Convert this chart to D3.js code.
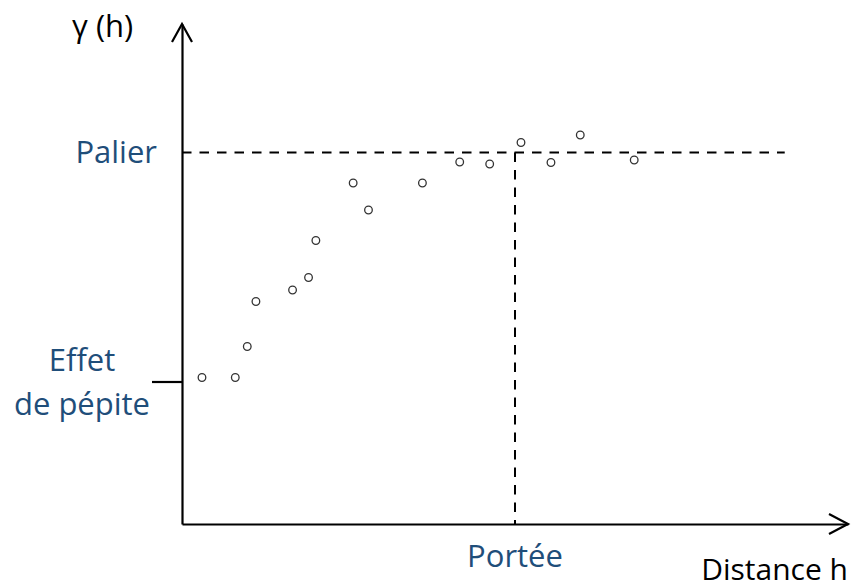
<!DOCTYPE html>
<html>
<head>
<meta charset="utf-8">
<script src="https://cdn.jsdelivr.net/npm/d3@7"></script>
<style>
  html, body { margin: 0; padding: 0; background: #fff; }
  svg { display: block; }
  text { font-family: "Open Sans", "DejaVu Sans", sans-serif; }
</style>
</head>
<body>
<div id="chart"></div>
<script>
// ---- Data (arbitrary units) ----
const distances = [3.0, 8.0, 9.8, 11.1, 16.6, 19.0, 20.1, 25.7, 28.0, 36.1, 41.7, 46.2, 50.9, 55.4, 59.8, 67.9];
const gammas    = [29.3, 29.3, 35.5, 44.5, 46.8, 49.3, 56.7, 68.2, 62.8, 68.2, 72.4, 72.0, 76.3, 72.3, 77.8, 72.8];
const nugget = 28.5;      // Effet de pépite
const sill = 74.3;        // Palier
const rangeDist = 50.0;   // Portée
const sillEnd = 90.5;     // where the palier line stops
const xMax = 100, yMax = 100;
const labels = {
  yTitle: "γ (h)",
  xTitle: "Distance h",
  sill: "Palier",
  nugget: ["Effet", "de pépite"],
  range: "Portée"
};

// ---- Layout ----
const W = 854, H = 588;
const svg = d3.select("#chart").append("svg").attr("width", W).attr("height", H);

const x = d3.scaleLinear().domain([0, xMax]).range([182, 848]);
const y = d3.scaleLinear().domain([0, yMax]).range([524, 24]);

const blue = "#1f4e7a";
const fs = 31;

// dashed sill line
svg.append("line")
  .attr("x1", x(0)).attr("x2", x(sillEnd))
  .attr("y1", y(sill)).attr("y2", y(sill))
  .attr("stroke", "#000").attr("stroke-width", 2)
  .attr("stroke-dasharray", "9.5,8");

// dashed range line
svg.append("line")
  .attr("x1", x(rangeDist)).attr("x2", x(rangeDist))
  .attr("y1", y(sill)).attr("y2", y(0))
  .attr("stroke", "#000").attr("stroke-width", 2)
  .attr("stroke-dasharray", "9.5,8");

// y axis with nugget tick
const yAxis = d3.axisLeft(y).tickValues([nugget]).tickSize(30).tickSizeOuter(0).tickFormat("");
const gy = svg.append("g").attr("transform", `translate(${x(0)},0)`).call(yAxis);
gy.selectAll("path, line").attr("stroke", "#000").attr("stroke-width", 2.2);

// x axis
const xAxis = d3.axisBottom(x).tickValues([]).tickSizeOuter(0);
const gx = svg.append("g").attr("transform", `translate(0,${y(0)})`).call(xAxis);
gx.selectAll("path").attr("stroke", "#000").attr("stroke-width", 2.2);

// arrowheads
const tipY = [x(0), y(yMax)];
svg.append("path")
  .attr("d", `M${tipY[0] - 10},${tipY[1] + 18} L${tipY[0]},${tipY[1]} L${tipY[0] + 10},${tipY[1] + 18}`)
  .attr("fill", "none").attr("stroke", "#000").attr("stroke-width", 2.2);
const tipX = [x(xMax), y(0)];
svg.append("path")
  .attr("d", `M${tipX[0] - 19},${tipX[1] - 10} L${tipX[0]},${tipX[1]} L${tipX[0] - 19},${tipX[1] + 10}`)
  .attr("fill", "none").attr("stroke", "#000").attr("stroke-width", 2.2);

// points
svg.append("g").selectAll("circle")
  .data(distances.map((d, i) => [d, gammas[i]]))
  .join("circle")
  .attr("cx", d => x(d[0]))
  .attr("cy", d => y(d[1]))
  .attr("r", 3.8)
  .attr("fill", "#fff")
  .attr("stroke", "#333")
  .attr("stroke-width", 1.3);

// texts
svg.append("text").attr("x", 72).attr("y", 37)
  .attr("font-size", fs).attr("fill", "#000").text(labels.yTitle);

svg.append("text").attr("x", 157).attr("y", y(sill) + 10)
  .attr("text-anchor", "end").attr("font-size", fs).attr("fill", blue).text(labels.sill);

const nt = svg.append("text").attr("text-anchor", "middle").attr("font-size", fs).attr("fill", blue);
nt.append("tspan").attr("x", 82).attr("y", 371).text(labels.nugget[0]);
nt.append("tspan").attr("x", 82).attr("y", 415).text(labels.nugget[1]);

svg.append("text").attr("x", x(rangeDist)).attr("y", 567)
  .attr("text-anchor", "middle").attr("font-size", fs).attr("fill", blue).text(labels.range);

svg.append("text").attr("x", 848).attr("y", 580)
  .attr("text-anchor", "end").attr("font-size", 30).attr("fill", "#000").text(labels.xTitle);
</script>
</body>
</html>
